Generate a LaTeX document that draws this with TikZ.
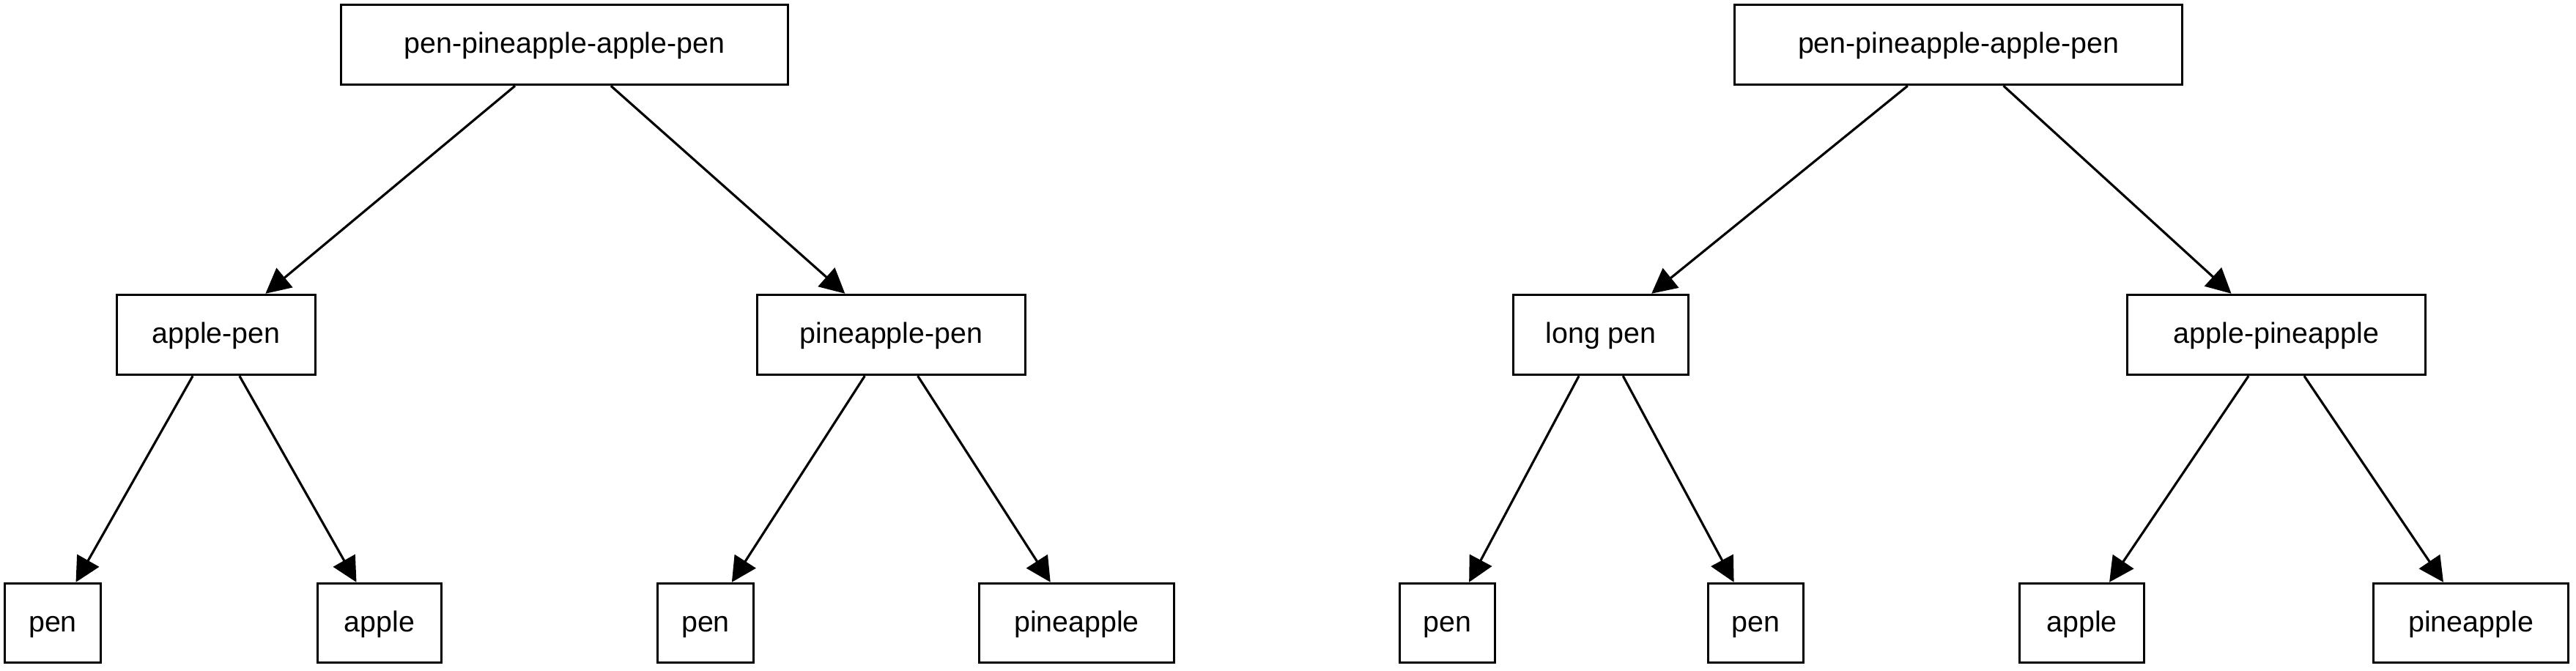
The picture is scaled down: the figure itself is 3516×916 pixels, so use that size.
\documentclass[tikz,border=0pt]{standalone}
\usepackage{fontspec}
\setmainfont{Liberation Sans}
\usetikzlibrary{arrows.meta}
\tikzset{
  box/.style={draw, line width=0.95pt, inner sep=0pt, text height=8.8pt, text depth=2.2pt, font=\fontsize{11.2}{13}\selectfont},
  conn/.style={line width=0.9pt, -{Triangle[length=3.4mm,width=3.4mm]}}
}
\begin{document}
\begin{tikzpicture}[x=0.01cm,y=-0.01cm]
\useasboundingbox (0,0) rectangle (3516,916);
% left tree
\node[box, minimum width=6.10cm, minimum height=1.09cm] (rootA) at (770.5,61) {pen-pineapple-apple-pen};
\node[box, minimum width=2.71cm, minimum height=1.09cm] (ap) at (295,457) {apple-pen};
\node[box, minimum width=3.66cm, minimum height=1.09cm] (pp) at (1216.5,457) {pineapple-pen};
\node[box, minimum width=1.31cm, minimum height=1.08cm] (la) at (72,850.5) {pen};
\node[box, minimum width=1.69cm, minimum height=1.08cm] (lb) at (518,850.5) {apple};
\node[box, minimum width=1.31cm, minimum height=1.08cm] (lc) at (963,850.5) {pen};
\node[box, minimum width=2.66cm, minimum height=1.08cm] (ld) at (1469.5,850.5) {pineapple};
% right tree
\node[box, minimum width=6.11cm, minimum height=1.09cm] (rootB) at (2673,61) {pen-pineapple-apple-pen};
\node[box, minimum width=2.39cm, minimum height=1.09cm] (lp) at (2185,457) {long pen};
\node[box, minimum width=4.07cm, minimum height=1.09cm] (api) at (3107,457) {apple-pineapple};
\node[box, minimum width=1.30cm, minimum height=1.08cm] (le) at (1975.5,850.5) {pen};
\node[box, minimum width=1.30cm, minimum height=1.08cm] (lf) at (2396.5,850.5) {pen};
\node[box, minimum width=1.70cm, minimum height=1.08cm] (lg) at (2841.5,850.5) {apple};
\node[box, minimum width=2.66cm, minimum height=1.08cm] (lh) at (3372.5,850.5) {pineapple};
% connectors
\draw[conn] (rootA) -- (ap);
\draw[conn] (rootA) -- (pp);
\draw[conn] (ap) -- (la);
\draw[conn] (ap) -- (lb);
\draw[conn] (pp) -- (lc);
\draw[conn] (pp) -- (ld);
\draw[conn] (rootB) -- (lp);
\draw[conn] (rootB) -- (api);
\draw[conn] (lp) -- (le);
\draw[conn] (lp) -- (lf);
\draw[conn] (api) -- (lg);
\draw[conn] (api) -- (lh);
\end{tikzpicture}
\end{document}
